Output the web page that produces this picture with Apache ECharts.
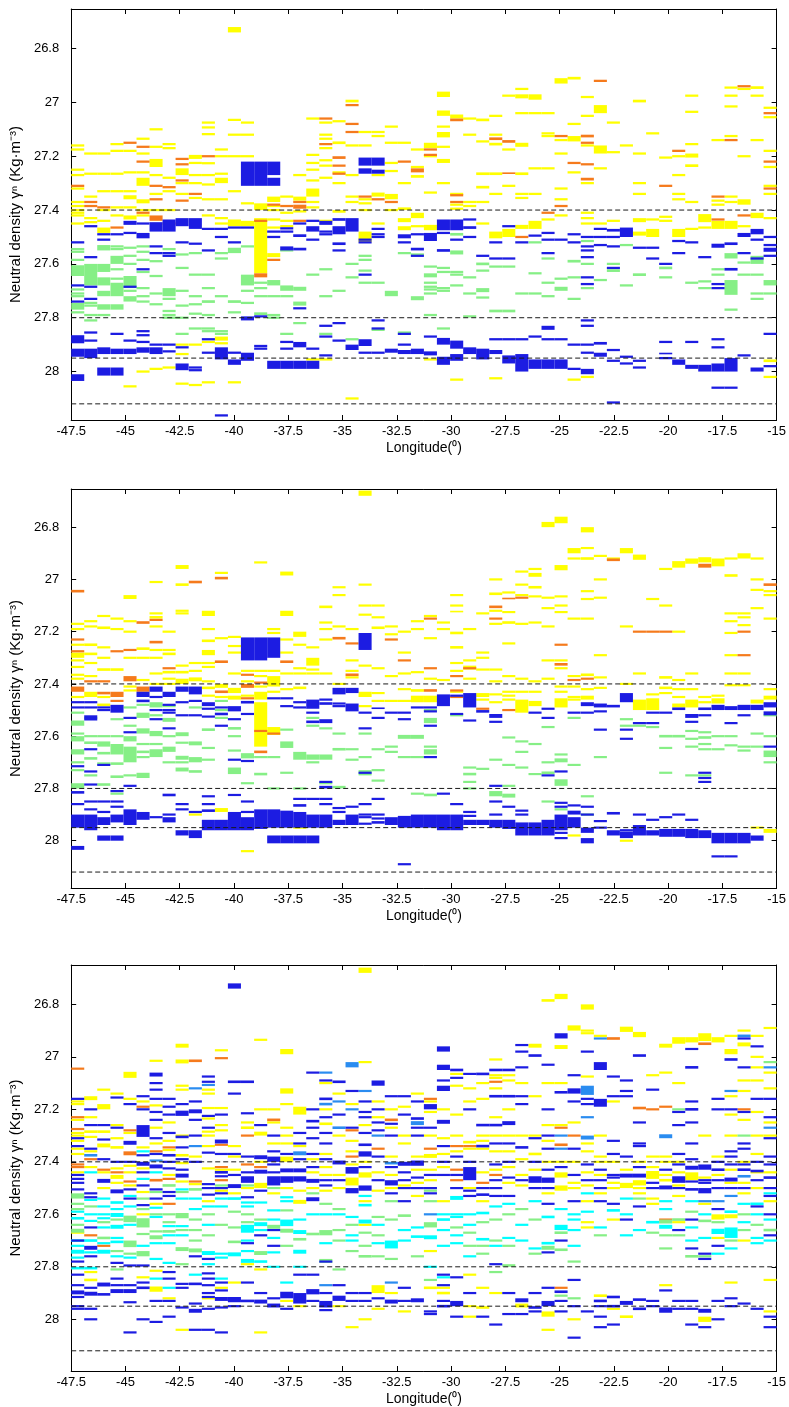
<!DOCTYPE html>
<html>
<head>
<meta charset="utf-8">
<script src="https://cdn.jsdelivr.net/npm/echarts@6/dist/echarts.min.js"></script>
<style>
html, body { margin: 0; padding: 0; background: #fff; }
#chart { width: 789px; height: 1407px; }
</style>
</head>
<body>
<div id="chart"></div>
<script>
// Station longitudes (degrees), one column of dashes per station
const STATIONS = [
  -47.20, -46.60, -46.00, -45.39, -44.79, -44.19, -43.59, -42.99, -42.39, -41.78,
  -41.18, -40.58, -39.98, -39.38, -38.77, -38.17, -37.57, -36.97, -36.37, -35.77,
  -35.16, -34.56, -33.96, -33.36, -32.75, -32.15, -31.55, -30.95, -30.35, -29.74,
  -29.14, -28.54, -27.94, -27.34, -26.74, -26.13, -25.53, -24.93, -24.33, -23.72,
  -23.12, -22.52, -21.92, -21.32, -20.71, -20.11, -19.51, -18.91, -18.31, -17.70,
  -17.10, -16.50, -15.90, -15.30
];
const X_RANGE = [-47.5, -15];
const X_STEP = 2.5;
const Y_TICKS = [26.8, 27, 27.2, 27.4, 27.6, 27.8, 28];
const Y_RANGES = [[26.653, 28.18], [26.654, 28.181], [26.65, 28.197]];
// Neutral-density reference levels drawn as dashed lines
const REF_LEVELS = [27.4, 27.8, 27.95, 28.12];

// Each station row: [yellow, orange, blue, green, cyan, light blue] classes.
// A number is a single level; a pair is a [top, bottom] layer.
const PANEL1 = [
  [[27.16,27.175,27.25,27.27,27.32,27.37,27.385,27.40,27.41,27.42,27.45],[27.31],[27.52,27.68,27.74,[27.865,27.895],[27.915,27.945],[28.01,28.035]],[27.545,27.555,27.585,[27.605,27.645],27.695,27.71,27.72,[27.745,27.77],27.78]],
  [[27.19,27.265,27.35,27.43,27.445],[27.37,27.385],[27.46,27.575,27.685,27.73,27.855,27.885,[27.915,27.95]],[[27.6,27.68],27.745,27.755,27.79,27.81]],
  [[27.19,27.265,27.33,27.40,27.44,[27.465,27.485]],[27.39],[27.49,27.51,[27.91,27.935],[27.985,28.015]],[[27.53,27.55],[27.6,27.63],[27.65,27.68],[27.7,27.72],[27.75,27.77],27.79]],
  [[27.155,27.18,27.265,27.33,27.39,27.42],[27.465],[27.49,27.86,[27.915,27.935],[27.985,28.015]],[27.535,27.545,[27.57,27.6],27.62,27.655,[27.67,27.72],[27.75,27.77]]],
  [[27.18,27.26,27.33,[27.345,27.36],27.39,[27.42,27.435],28.055],[27.15],[[27.44,27.455],27.485,27.685,27.885,[27.915,27.935]],[27.54,27.57,27.6,[27.645,27.69],27.7,[27.72,27.74]]],
  [[27.135,27.19,27.26,[27.28,27.31],[27.36,27.375],27.40,27.42,28.0],[27.165,27.22,27.41],[27.45,[27.485,27.505],27.62,27.85,27.865,27.89,[27.91,27.93]],[27.535,27.555,27.585,27.63,27.69,27.72,27.74]],
  [[27.1,27.165,[27.21,27.24],27.27,27.34,27.40,27.99],[27.31,27.36,[27.42,27.44]],[[27.445,27.48],27.535,27.56,27.9,[27.91,27.935]],[27.59,27.645,27.71,27.75]],
  [[27.155,27.17,27.28,27.33,27.40,27.985],[27.315,27.45],[[27.435,27.48],27.56,27.57,27.9,27.925],[27.545,[27.69,27.72],27.73,27.775,27.79,27.8]],
  [[[27.245,27.27],27.3,27.34,27.9,27.935,28.045],[27.21,27.23,27.29,27.365],[[27.43,27.46],27.52,27.91,[27.97,27.995]],[27.565,27.615,27.70,27.755,27.8,27.86]],
  [[[27.195,27.21],27.225,27.27,27.3,27.355,27.9,28.05],[27.34],[[27.43,27.47],27.525,27.985,27.995],[27.56,27.64,27.72,27.75,27.785,27.84]],
  [[27.075,27.093,27.118,27.226,27.27,27.305,27.36,27.42,27.89,28.04],[27.2],[27.47,27.55,27.88,27.93],[27.64,27.69,[27.735,27.745],27.79,27.84,27.85]],
  [[27.175,27.2,27.265,[27.28,27.3],27.36,27.43,27.45,[27.87,27.885],27.895],[],[27.47,27.5,[27.91,27.955],28.163],[27.56,27.58,27.72,27.85,27.86]],
  [[[26.72,26.74],27.065,27.12,27.2,27.33,[27.435,27.46],28.04],[],[27.465,27.52,27.93,[27.955,27.975]],[[27.54,27.56],[27.735,27.745],27.78]],
  [[27.075,27.12,27.2,27.375,[27.44,27.46]],[],[[27.22,27.31],27.465,[27.795,27.81],[27.93,27.96]],[27.535,[27.64,27.68],27.7,27.745]],
  [[[27.375,27.4],[27.43,27.635]],[27.44,[27.635,27.65]],[[27.22,27.31],27.795,27.905,27.915],[27.67,27.69,27.72,[27.78,27.79]]],
  [[[27.35,27.37],27.385,27.4,27.435,27.465,[27.56,27.575]],[27.38,27.585],[[27.22,27.27],[27.28,27.31],27.48,27.5,[27.96,27.99]],[[27.66,27.68],27.72,27.79,27.8]],
  [[27.35,27.41,27.44,27.46],[27.385],[27.468,27.48,[27.535,27.55],27.89,27.915,[27.96,27.99]],[27.55,[27.68,27.7],27.72,27.86]],
  [[27.27,[27.35,27.365],27.405],[27.37,[27.38,27.395],27.44],[27.45,[27.49,27.5],[27.54,27.55],27.765,[27.89,27.91],[27.96,27.99]],[[27.685,27.7],[27.74,27.755],27.82]],
  [[27.06,27.195,27.225,27.25,27.29,[27.32,27.35],27.37,27.39,27.955],[],[27.44,[27.46,27.48],27.51,27.915,[27.96,27.99]],[27.64]],
  [[27.075,27.12,27.135,27.17,27.215,27.235,27.28,27.44,27.955],[27.06,27.155],[[27.44,27.455],27.48,27.49,27.83,27.87,27.94],[27.62,27.72,27.86]],
  [[27.07,[27.145,27.155],27.26,27.3,[27.4,27.41]],[[27.2,27.21],27.235,27.265],[[27.43,27.44],[27.46,27.49],[27.52,27.53],27.55,27.82,27.885],[27.7]],
  [[[26.99,27.0],27.16,27.27,27.35,27.37,28.1],[27.01,27.08,27.11],[[27.43,27.48],[27.9,27.92]],[27.6,27.65,27.88]],
  [[27.11,27.16,27.36,27.375,27.4,[27.48,27.52]],[27.35],[[27.205,27.235],[27.245,27.265],27.51,27.52,27.64,[27.88,27.905],27.93],[27.57,27.585,27.625,27.67]],
  [[27.11,27.125,27.27,[27.335,27.35],27.45],[27.36],[[27.205,27.235],[27.25,27.265],27.47,27.49,27.5,27.81,27.84,27.93],[27.67,27.845]],
  [[27.09,27.15,27.225,27.255,[27.34,27.36],27.4],[27.37],[[27.915,27.93]],[[27.7,27.72]]],
  [[27.15,27.3,[27.39,27.4],[27.43,27.445],[27.46,27.475]],[27.22],[[27.49,27.505],27.52,27.86,27.9,[27.92,27.935]],[27.56,27.855]],
  [[27.175,27.24,[27.27,27.28],[27.41,27.43],27.46],[[27.245,27.26]],[27.49,[27.54,27.55],27.57,[27.915,27.935]],[27.565,[27.72,27.735]]],
  [[[27.15,27.17],27.2,27.335,[27.455,27.475],27.955],[27.175,27.195],[[27.485,27.515],27.87,[27.925,27.94]],[27.61,[27.635,27.65],27.67,27.685,27.695,27.71,27.79]],
  [[[26.96,26.98],[27.03,27.05],27.09,[27.11,27.13],27.165,[27.21,27.225],27.3],[],[[27.435,27.475],27.485,[27.545,27.555],[27.875,27.9],[27.945,27.975]],[27.615,27.63,27.69,27.7,27.84]],
  [[[27.045,27.06],27.34,27.38,27.395,28.03],[[27.06,27.07],27.345,27.37],[[27.435,27.475],27.51,[27.885,27.915],[27.935,27.96]],[[27.485,27.495],[27.55,27.565],27.63,27.64,27.68]],
  [[27.06,27.12,27.37,27.385],[],[27.435,[27.46,27.47],27.5,[27.91,27.935]],[27.65,27.71,27.795]],
  [[[27.06,27.07],27.145,[27.26,27.27],[27.31,27.32],27.37,27.45],[],[27.57,[27.915,27.955]],[[27.595,27.605],27.625,[27.69,27.705],27.725]],
  [[27.05,27.12,[27.15,27.16],[27.26,27.27],27.34,[27.48,27.505],28.025],[[27.13,27.14]],[27.52,27.58,27.88,[27.92,27.935]],[27.61,[27.77,27.78]]],
  [[26.975,27.175,27.31,[27.47,27.5]],[[27.14,27.15],[27.26,27.265]],[27.46,27.58,27.88,[27.94,27.97]],[27.61,[27.77,27.78]]],
  [[26.95,[26.97,26.985],27.04,[27.15,27.165],[27.26,27.27],27.34,27.355,[27.455,27.47]],[27.5],[27.52,27.88,[27.935,28.0]],[27.71]],
  [[[26.97,26.99],27.04,27.245,27.34,[27.44,27.47]],[],[27.495,27.87,[27.955,27.99]],[27.52,27.635,27.71]],
  [[27.04,27.115,27.125,27.245,27.435],[27.41],[27.485,27.51,27.56,[27.83,27.845],27.88,[27.955,27.99]],[27.58,27.67,27.72]],
  [[[26.91,26.93],27.14,27.19,27.32,27.36,27.42],[27.125,27.385],[27.51,27.88,[27.955,27.99]],[27.655,[27.685,27.7]]],
  [[[26.905,26.915],27.08,[27.125,27.145],27.26,28.03],[27.225],[27.49,27.52,27.9,27.99],[[27.585,27.595],27.65,27.73]],
  [[26.98,27.05,27.16,27.3,27.41,27.43,27.45,28.02],[[27.12,27.13],27.15,27.23,[27.28,27.29]],[27.5,27.535,27.55,27.575,27.65,27.675,27.81,27.83,27.9,27.93,[27.99,28.01]],[27.515,27.6,27.69]],
  [[[27.01,27.04],[27.16,27.19],27.245,27.45],[26.92],[27.47,27.5,27.53,[27.89,27.9],[27.93,27.945]],[27.66]],
  [[27.075,27.185,27.44],[],[[27.47,27.48],27.5,27.535,27.615,27.92,27.96,28.115],[27.6,[27.62,27.63]]],
  [[27.16],[],[[27.465,27.5],27.945,27.97],[27.53,27.68]],
  [[[26.99,27.0],27.19,27.3,27.34,[27.43,27.445],[27.48,27.495]],[],[27.54,27.96,27.985],[[27.635,27.645]]],
  [[27.115,27.435,[27.47,27.5]],[],[27.54,27.58],[]],
  [[27.205,27.425,27.44],[27.31],[27.6,27.89,[27.93,27.935],27.95],[[27.61,27.62],27.65]],
  [[27.2,27.27,27.34,27.36,[27.47,27.5]],[27.18],[27.515,27.56,[27.955,27.975]],[]],
  [[26.975,27.035,27.155,[27.19,27.205],[27.23,27.24],27.37,27.47],[],[27.52,27.89,[27.975,27.99]],[27.67]],
  [[[27.415,27.445],27.465,27.985],[],[27.575,[27.975,28.0]],[27.665,27.69]],
  [[27.14,27.365,27.38,[27.44,27.47]],[27.35,27.435],[[27.525,27.54],27.675,27.69,27.88,27.91,[27.97,28.0],28.06],[27.62,27.64]],
  [[26.945,26.975,27.015,27.125,27.35,27.37,[27.44,27.47]],[27.14],[[27.52,27.53],[27.615,27.625],[27.95,28.0],28.06],[[27.56,27.58],[27.66,27.715],27.77]],
  [[26.95,27.2,[27.36,27.38],27.46],[26.94,27.42],[[27.485,27.5],27.56,27.94],[27.595,27.64]],
  [[[26.94,26.95],26.975,27.14,[27.41,27.43]],[],[[27.47,27.49],27.51,27.58,[27.985,28.0]],[[27.57,27.6],27.64,27.71,27.73]],
  [[27.02,27.055,27.18,27.24,27.31,27.34,27.43,[27.955,27.965],28.02],[27.04,27.22,27.32],[27.5,27.53,[27.54,27.555],27.57,27.86,27.98],[[27.66,27.68],27.71]]
];

const PANEL2 = [
  [[27.17,27.19,27.25,[27.28,27.3],27.31,27.335,27.365,27.38,27.45],[[27.04,27.05],27.23,27.275,[27.41,27.43]],[27.47,27.49,27.715,[27.81,27.82],27.86,[27.9,27.95],[28.02,28.035]],[27.51,[27.54,27.56],27.59,[27.6,27.62],[27.65,27.67],27.7,27.73,[27.78,27.8]]],
  [[27.16,27.18,[27.245,27.255],[27.28,27.29],27.32,27.37,[27.43,27.45]],[27.39],[27.47,27.49,[27.52,27.54],27.65,27.735,27.785,27.85,27.88,[27.9,27.96]],[27.53,27.6,[27.62,27.63],[27.68,27.69],27.75]],
  [[27.14,[27.18,27.19],27.26,27.3,[27.34,27.35],27.45,[27.475,27.485]],[27.39,[27.43,27.44]],[27.49,27.5,27.71,27.85,27.89,[27.91,27.94],[27.98,28.0]],[27.6,[27.62,27.64],[27.66,27.67],[27.7,27.71],[27.78,27.79]]],
  [[27.15,27.19,[27.34,27.35]],[27.275,[27.43,27.45],27.465],[[27.48,27.51],27.81,27.85,27.87,[27.9,27.93],[27.98,28.0]],[27.535,27.6,[27.63,27.67],[27.7,27.71],[27.75,27.76],27.82]],
  [[[27.06,27.075],27.16,27.2,27.3,27.41,27.425],[27.27,[27.37,27.39]],[27.53,27.585,27.79,[27.88,27.94]],[27.49,27.56,[27.6,27.62],[27.64,27.7],27.75]],
  [[[27.26,27.27],27.3,27.385],[[27.16,27.17],[27.41,27.43]],[[27.43,27.45],[27.46,27.47],[27.89,27.92]],[27.48,[27.51,27.53],[27.57,27.59],27.63,[27.655,27.665],27.68,[27.74,27.76]]],
  [[27.01,27.13,[27.14,27.15],27.18,27.27,27.3,27.36,27.4],[27.155,[27.235,27.245]],[[27.41,27.43],27.45,27.5,27.535,27.91],[[27.47,27.49],27.52,[27.58,27.6],27.63,[27.65,27.68]]],
  [[27.2,27.27,[27.28,27.29],[27.35,27.36],27.38,27.4],[27.34],[[27.43,27.45],27.48,27.5,27.51,27.57,[27.82,27.83],27.9,[27.91,27.93]],[27.485,[27.53,27.545],27.6,[27.64,27.66],27.7]],
  [[[26.945,26.96],[27.015,27.025],27.12,27.13,27.33,[27.35,27.36],[27.38,27.4]],[],[[27.41,27.43],27.47,27.52,27.86,27.88,[27.96,27.98]],[[27.585,27.6],27.625,[27.675,27.69],27.7,[27.72,27.735]]],
  [[27.32,27.35,[27.375,27.39],27.9],[[27.005,27.015]],[[27.41,27.44],27.465,27.52,27.89,[27.96,27.99]],[27.49,[27.62,27.635],[27.68,27.7],[27.73,27.74]]],
  [[[27.12,27.14],27.19,[27.23,27.24],[27.27,27.29],27.32,27.335,27.39,[27.41,27.42],27.445],[],[[27.47,27.485],27.495,27.525,27.83,27.86,[27.88,27.89],[27.92,27.96]],[[27.57,27.58],27.645,27.69]],
  [[26.975,27.225,[27.4,27.415],27.45,[27.875,27.89]],[[26.99,27.0],[27.31,27.32],[27.425,27.435]],[27.49,[27.51,27.52],27.56,[27.92,27.96]],[27.465,27.5,27.53]],
  [[27.22,27.255,27.28,27.36,[27.415,27.435],[27.445,27.46]],[],[[27.485,27.505],27.535,27.69,27.825,[27.89,27.96]],[[27.565,27.575],27.6,27.655,[27.72,27.745]]],
  [[27.35,27.39,27.445,28.04],[27.365,[27.4,27.415],27.455],[[27.222,27.31],[27.465,27.475],27.515,27.695,27.85,27.89,[27.91,27.96]],[[27.665,27.685],27.78]],
  [[26.935,27.35,27.37,27.41,[27.43,27.46],[27.47,27.64]],[27.395,27.58,[27.655,27.665]],[[27.222,27.31],[27.88,27.955]],[27.68,[27.74,27.75]]],
  [[27.19,27.205,27.35,[27.37,27.41],27.43,[27.565,27.595]],[27.59],[[27.222,27.3],27.455,[27.88,27.95],[27.98,28.01]],[27.68,27.8]],
  [[[26.97,26.985],[27.12,27.14],27.23,27.28,27.36,27.42],[[27.31,27.32]],[27.455,27.485,[27.885,27.95],[27.98,28.01]],[27.575,[27.62,27.645],27.74]],
  [[[27.2,27.22],27.25,27.34,27.36,[27.41,27.42],27.95],[],[27.47,27.49,27.84,[27.86,27.87],[27.89,27.95],[27.98,28.01]],[[27.66,27.69],27.8]],
  [[27.26,[27.3,27.33],27.345,27.36],[],[[27.46,27.495],27.51,[27.54,27.55],27.84,[27.9,27.95],[27.98,28.01]],[27.53,27.56,[27.67,27.69],27.7]],
  [[[27.1,27.11],27.165,27.19,27.23,27.36],[],[27.46,[27.47,27.48],[27.535,27.55],27.775,[27.79,27.8],27.84,27.86,[27.9,27.95]],[27.57,[27.67,27.69],27.78]],
  [[27.03,27.06,27.18,27.4],[[27.22,27.23]],[[27.415,27.44],27.475,27.485,27.875,27.89,[27.92,27.94]],[27.59,[27.645,27.655],[27.79,27.8]]],
  [[27.19,27.31,27.35,27.375],[27.245,[27.36,27.37]],[[27.415,27.435],[27.475,27.505],27.87,[27.9,27.94]],[27.65,27.69]],
  [[[26.66,26.68],27.02,27.1,27.135,27.33,[27.43,27.45],27.485],[],[[27.205,27.27],27.51,27.57,27.74,27.86,27.9,27.91,27.935],[27.59,27.68,[27.73,27.75]]],
  [[27.1,27.145,[27.18,27.19],27.34,27.435,27.465],[],[[27.49,27.495],27.53,27.84,27.9,27.915,[27.925,27.935]],[27.65,27.73,27.77]],
  [[27.18,27.21,27.37,27.465],[27.23],[27.51,[27.91,27.94]],[27.64,27.66]],
  [[27.2,27.28,27.36,27.42,27.465],[27.31],[27.51,27.535,[27.905,27.95],28.09],[[27.595,27.61],27.68]],
  [[27.16,27.19,27.355,[27.42,27.43],[27.445,27.47]],[],[27.49,[27.9,27.95]],[[27.595,27.61],27.68,27.82]],
  [[27.14,27.225,27.38,[27.445,27.47]],[27.15,27.34,[27.42,27.43]],[27.49,27.505,27.56,27.68,[27.9,27.95]],[27.5,[27.53,27.55],27.64,[27.65,27.67],[27.82,27.83]]],
  [[27.165,27.19,27.385],[],[[27.44,27.485],27.82,[27.9,27.96]],[27.46]],
  [[27.06,27.1,[27.12,27.125],[27.2,27.21],[27.255,27.265],27.32,27.35,27.43],[27.37,27.425,27.45],[27.445,27.515,27.86,[27.9,27.96]],[27.52]],
  [[27.19,27.31,[27.33,27.345],27.38],[27.34],[[27.435,27.49],27.54,27.89,27.905,[27.92,27.94]],[27.72,[27.74,27.75],27.775,27.8]],
  [[27.13,27.28,27.3,27.345,[27.435,27.45],27.46],[27.495],[[27.5,27.51],[27.92,27.94]],[27.725]],
  [[27.0,[27.05,27.06],27.12,27.17,27.345,27.39,27.44,27.47],[[27.1,27.11],27.15],[[27.515,27.53],27.545,27.79,27.85,27.9,[27.92,27.95]],[27.69,[27.81,27.83]]],
  [[27.05,27.125,[27.16,27.17],27.245,27.37,27.43,27.445,27.46],[[27.07,27.075],27.5],[27.87,[27.92,27.955]],[27.605,27.71,27.79,[27.82,27.835]]],
  [[26.97,27.02,27.06,27.17,27.38,27.43,[27.46,27.51]],[27.07],[27.885,27.9,[27.93,27.98]],[27.62,27.66,27.72]],
  [[26.96,[26.975,26.99],[27.025,27.035],27.065,27.165,27.39,27.43,[27.465,27.485]],[],[27.51,[27.93,27.98]],[27.63,27.745]],
  [[[26.78,26.8],27.07,27.11,27.18,27.31,27.38],[],[27.495,27.53,27.75,[27.92,27.98]],[27.565,27.7,[27.735,27.745],27.85]],
  [[[26.76,26.785],[26.945,26.965],27.065,27.1,27.125,27.31,27.34,27.41,27.43,[27.455,27.49]],[27.25,[27.32,27.33]],[27.735,27.855,27.87,[27.9,27.96],27.97,27.99],[27.67,[27.685,27.7],[27.765,27.79],27.88]],
  [[[26.88,26.9],26.92,27.15,27.37,27.41,27.45,27.46,27.98],[27.385],[27.51,27.865,[27.885,27.9],[27.91,27.95]],[27.53,27.71]],
  [[[26.8,26.82],26.88,[26.915,26.925],27.045,27.075,27.15,[27.36,27.37],27.42,[27.445,27.46],27.955],[27.38],[[27.47,27.485],27.51,27.87,27.9,[27.95,27.97],[27.99,28.01]],[27.83,27.9]],
  [[26.91,27.0,27.07,27.29,27.375,27.415],[],[[27.475,27.49],27.505,27.575,27.925,27.95],[27.68]],
  [[26.92],[[26.92,26.93]],[[27.48,27.49],[27.89,27.9],[27.96,27.98]],[]],
  [[[26.88,26.9],27.18,27.4,28.0],[],[[27.435,27.47],27.575,27.61,27.96,[27.965,27.99]],[27.535,27.56]],
  [[[26.905,26.925],27.36,[27.46,27.5]],[27.2],[27.55,27.9,[27.94,27.98]],[27.56]],
  [[27.075,27.44,[27.455,27.5]],[27.2],[27.51,27.55,27.92,[27.96,27.98]],[27.565]],
  [[26.96,27.1,[27.37,27.38],[27.41,27.42],27.435],[27.2],[27.51,27.91,[27.955,27.985]],[[27.595,27.605],27.645,27.74]],
  [[[26.93,26.955],27.2,27.385,27.42,27.45,[27.475,27.49]],[],[[27.49,27.5],27.9,[27.955,27.985]],[[27.595,27.605]]],
  [[[26.92,26.94],27.36,27.42,[27.46,27.49]],[],[[27.515,27.53],27.545,27.92,[27.955,27.99]],[27.58,27.61,27.64,27.75]],
  [[[26.915,26.935],27.45,27.47],[[26.94,26.955]],[[27.49,27.5],27.52,27.74,27.76,27.775,[27.96,27.99]],[27.585,[27.6,27.61],27.63,27.65,27.75]],
  [[[26.92,26.95],27.445,[27.455,27.475]],[],[[27.48,27.5],[27.97,28.01],28.06],[27.6,27.65]],
  [[26.92,[26.98,26.99],27.13,27.16,27.205,27.29,27.36,27.405],[],[[27.485,27.5],27.55,[27.97,28.01],28.06],[27.6,27.635]],
  [[[26.9,26.92],27.13,27.145,27.175,27.36,27.405],[27.2,27.29],[[27.48,27.5],27.52,[27.97,28.01]],[27.64,27.655]],
  [[26.92,27.0,27.04,27.11,[27.46,27.475],27.95],[],[[27.48,27.5],[27.98,28.0]],[27.59,27.64]],
  [[27.045,27.06,27.15,27.42,[27.445,27.46],[27.955,27.97]],[[27.015,27.025]],[[27.47,27.49],[27.505,27.52],27.64],[27.52,27.6,[27.655,27.68],27.7]]
];

const PANEL3 = [
  [[27.17,27.18,27.24,27.29,27.3,27.32,27.35,27.37,27.44,27.67],[27.045,27.23,27.275,27.41,27.42],[27.16,27.31,27.34,27.45,27.465,27.48,27.505,27.7,27.78,27.83,27.87,[27.89,27.905],27.915,27.95,27.96],[[27.52,27.54],27.56,27.58,27.64,[27.655,27.67]],[27.59,[27.61,27.62],[27.695,27.705],27.72,[27.735,27.75],27.765,[27.8,27.81]],[]],
  [[[27.15,27.165],27.23,[27.28,27.29],27.305,27.36,27.42,27.82,[27.845,27.855]],[27.39,27.68],[27.2,27.26,27.35,27.52,27.535,27.65,[27.72,27.735],27.76,27.88,[27.895,27.91],27.96,28.0],[27.57],[27.44,27.545,27.6,27.625,[27.695,27.705],27.745,[27.8,27.81]],[[27.37,27.38]]],
  [[27.125,[27.18,27.2],[27.28,27.29],[27.33,27.345],27.44,27.5],[27.43,27.72],[27.26,27.315,27.39,[27.465,27.48],[27.86,27.875],[27.9,27.91]],[27.63,[27.685,27.695]],[27.54,27.57,27.6,27.615,27.65,27.71,[27.735,27.75]],[]],
  [[27.14,27.26,27.31,[27.34,27.35],27.425,[27.45,27.465],27.48],[27.44],[27.155,27.27,27.4,[27.505,27.52],27.785,27.845,27.87,[27.885,27.9]],[27.62,27.74,27.81],[[27.55,27.56],27.58,[27.595,27.61],[27.64,27.655],27.69,[27.7,27.71],27.76],[]],
  [[[27.057,27.08],27.16,27.29,27.415,27.44,27.49],[27.28,[27.36,27.375],27.475],[27.18,[27.32,27.335],27.4,27.505,27.54,27.795,27.87,[27.885,27.9],27.935,28.05],[[27.605,27.63],[27.7,27.725],27.75],[27.53,27.57,27.64,27.765],[]],
  [[27.17,27.345,27.425,27.515,27.6,27.84],[27.19],[27.15,27.2,[27.26,27.305],27.375,[27.4,27.415],27.44,27.49,27.565,27.795,27.86,[27.875,27.885],28.0],[27.54,27.58,[27.615,27.65],27.675,[27.74,27.76]],[27.36,27.465,27.72],[]],
  [[27.015,27.185,27.27,27.33,27.56,27.815,[27.875,27.895]],[27.36,[27.465,27.475]],[[27.06,27.075],27.1,27.125,27.16,27.21,27.24,27.31,27.37,[27.41,27.425],27.505,27.54,27.93,28.01],[27.515,27.6,27.665,[27.68,27.695]],[27.44,27.575,27.61,27.71,27.77,27.845],[27.395]],
  [[27.25,27.32,27.355,27.45,27.92],[27.345,27.465,27.56],[27.16,27.19,27.22,27.29,[27.37,27.38],27.4,27.425,27.515,27.53,27.82,27.845,27.93,27.99],[[27.485,27.495],27.6,27.63,[27.66,27.67]],[27.645,27.68,27.71,27.785,27.88],[]],
  [[[26.95,26.965],[27.01,27.025],27.11,27.125,27.3,[27.37,27.38],27.405,27.475,28.04],[],[27.18,[27.205,27.225],[27.3,27.31],27.345,27.39,27.43,[27.445,27.46],27.865,27.88,27.955],[27.515,[27.595,27.615],27.66,[27.725,27.74],27.79],[27.505,27.54,27.645,27.68],[]],
  [[27.38,27.485],[[27.01,27.02],27.475],[27.17,[27.2,27.215],27.24,27.3,27.4,27.76,[27.86,27.87],27.94,[27.96,27.975],28.04],[[27.5,27.51],27.62,27.66,27.7,[27.73,27.745]],[27.54,27.58,27.83],[27.12,27.34]],
  [[27.125,27.14,27.195,27.235,27.285,27.3,27.34,27.425,27.55,27.92],[],[27.075,27.095,27.225,27.27,27.365,27.485,27.5,27.525,27.77,27.825,27.845,27.87,27.9,27.915,27.96,28.04],[27.6,27.68],[27.57,27.64,[27.74,27.755],27.79],[27.107]],
  [[26.975,27.195,27.26,27.28,27.43,27.51,27.88],[27.005,27.335,27.42,27.47],[27.22,[27.315,27.33],27.37,[27.435,27.445],27.455,27.5,27.52,27.86,27.89,[27.915,27.93],27.955,28.05],[27.49,27.64],[27.54,27.57,27.75,27.765,27.845],[]],
  [[27.34,27.38,27.43,27.52,27.86],[],[[26.72,26.74],[27.09,27.1],27.14,27.37,27.45,[27.485,27.5],[27.915,27.935],27.95],[27.59,27.65,[27.7,27.71]],[[27.535,27.545],[27.745,27.76]],[]],
  [[27.25,[27.265,27.275],27.5,27.79],[27.3,27.41],[[27.09,27.1],27.215,27.38,27.44,[27.455,27.48],27.535,27.71,27.86,[27.925,27.935]],[27.49,27.6,27.63],[27.555,27.57,[27.64,27.67],27.7,27.74,[27.77,27.785]],[]],
  [[26.935,27.2,[27.285,27.3],27.4,[27.48,27.5],27.81,28.05],[27.42],[27.26,[27.375,27.39],[27.43,27.445],27.51,27.68,27.9,[27.925,27.94]],[27.62,[27.74,27.755]],[27.555,[27.63,27.645],27.66,[27.775,27.785]],[]],
  [[27.2,27.25,27.33,27.52],[[27.235,27.245]],[27.3,27.36,[27.38,27.4],27.41,27.44,[27.455,27.49],27.66,27.72,27.92,[27.94,27.955]],[27.5,[27.64,27.655]],[27.585,27.62,27.69,27.745,27.8],[]],
  [[[26.97,26.99],[27.12,27.14],27.18,27.27,27.3,27.33,[27.38,27.4],27.5,27.93],[],[27.37,[27.425,27.44],[27.455,27.48],[27.895,27.92],27.96],[27.585,[27.655,27.67],27.72],[27.535,27.55,[27.62,27.645],27.86],[]],
  [[[27.19,27.22],27.34,27.51,[27.545,27.56],27.95],[],[27.29,27.33,27.39,[27.425,27.44],[27.455,27.475],27.83,[27.9,27.94]],[[27.69,27.7]],[27.62,[27.66,27.675],[27.735,27.75],27.8],[[27.36,27.375]]],
  [[27.39,27.44,27.5],[],[27.06,27.2,[27.24,27.25],27.27,27.31,27.37,27.42,[27.465,27.48],[27.535,27.55],27.83,[27.885,27.905],27.93],[27.52,[27.67,27.68]],[27.6],[]],
  [[27.1,27.2,[27.25,27.26],27.37,27.42,27.45,27.51],[],[27.09,[27.155,27.165],27.23,27.29,27.33,27.39,27.47,27.49,27.78,27.9,[27.93,27.955],27.965],[27.56,[27.66,27.68],[27.77,27.785]],[27.6,27.71],[27.06,[27.175,27.185],27.87]],
  [[27.14,27.3,27.45,27.5,27.95],[],[[27.09,27.1],27.22,[27.395,27.41],27.47,27.87,[27.91,27.93]],[27.58,27.66,27.7,27.81],[27.6],[27.17,[27.265,27.275]]],
  [[27.18,27.32,27.36,27.41,[27.46,27.49],28.03],[27.28,27.38],[27.13,27.27,[27.42,27.445],[27.5,27.52],27.9,27.93],[27.64,27.74],[27.61,27.68,27.7],[[27.02,27.04],27.2]],
  [[[26.66,26.68],27.02,27.26,27.4,[27.44,27.46],27.55,27.64,28.0],[],[27.17,27.21,27.23,27.29,[27.33,27.34],[27.36,27.38],27.42,[27.49,27.51],27.9,27.93],[27.67,27.72,[27.755,27.765]],[27.53,[27.56,27.57],[27.62,27.635]],[27.13]],
  [[27.17,27.23,27.44,27.51,[27.87,27.9],27.96],[27.35],[[27.09,27.11],27.2,27.25,27.28,27.38,27.47,27.92],[27.61,27.68,27.76],[27.64,27.71],[27.3]],
  [[27.2,27.27,27.38,27.45,27.5,27.9],[[27.235,27.245]],[27.15,27.255,27.3,27.42,[27.47,27.49],27.52,[27.925,27.94]],[27.55,27.62,27.77],[[27.7,27.73]],[[27.4,27.41],27.86]],
  [[27.19,27.3,27.33,27.49,27.97],[],[27.15,27.22,[27.4,27.415],27.44,27.47,27.5,27.55,27.88,27.93],[[27.6,27.61]],[27.66,27.7],[]],
  [[27.14,27.38,27.43,27.48,27.53],[],[27.17,[27.23,27.24],27.27,27.3,[27.395,27.415],27.46,27.5,[27.92,27.935]],[27.76],[27.65,[27.68,27.69]],[[27.245,27.26]]],
  [[27.17,27.21,27.3,[27.37,27.385],27.43,27.47,27.74,[27.875,27.885]],[27.16,27.35],[[27.18,27.2],27.27,27.45,27.5,27.52,27.97,27.98],[27.51,27.55,[27.63,27.65],27.85],[[27.68,27.695],27.8],[27.6]],
  [[27.2,27.31,27.37,27.42,27.55,27.88,[27.895,27.905]],[],[[26.96,26.98],[27.03,27.05],27.09,[27.11,27.13],[27.24,27.255],27.34,27.4,27.45,27.83,27.87,27.93,[27.945,27.955]],[],[27.6,[27.615,27.625],27.66,27.72,27.84],[]],
  [[27.065,27.11,27.22,27.3,27.36],[27.34,27.43,27.47],[[27.045,27.055],27.08,27.38,27.45,27.5,27.84,[27.93,27.95],27.99],[27.65],[[27.53,27.545],27.6,27.61,27.68,27.71],[]],
  [[27.12,27.17,[27.32,27.33],27.35,27.5,27.83,27.95,27.99],[27.34],[27.065,27.2,27.4,[27.42,27.47],27.51,27.53,27.9],[27.67,27.72],[27.6,27.64,27.76],[]],
  [[27.1,27.16,27.3,27.32,27.35,27.44,27.55,27.88,[27.95,27.96]],[27.48],[[27.06,27.07],[27.255,27.265],[27.335,27.345],27.5,[27.52,27.53],27.99],[27.63,27.72,27.75],[[27.59,27.6],[27.69,27.7]],[]],
  [[27.01,27.07,27.08,27.12,27.23,27.3,27.36,27.43,27.9],[27.095,27.45],[[27.045,27.055],[27.145,27.155],[27.255,27.265],27.33,27.41,27.47,27.5,27.53,27.79,28.02],[27.62,27.7,27.82],[27.57,27.72],[]],
  [[27.07,27.09,27.2,27.3,27.36,27.42,27.48],[],[[27.045,27.055],[27.145,27.155],[27.245,27.26],27.33,27.4,27.46,27.53,27.9,27.98],[27.6,27.72,[27.79,27.8]],[27.56,27.69],[]],
  [[27.1,27.3,27.39,27.45,27.49,[27.94,27.955]],[],[26.955,26.98,27.04,27.15,27.18,[27.34,27.35],27.47,[27.92,27.935],27.98],[27.58],[27.64,27.7],[]],
  [[[26.95,26.965],27.15,27.3,[27.365,27.375],27.43,27.47],[],[[26.99,27.0],27.31,27.4,[27.455,27.48],27.5,27.9,[27.95,27.96],27.97],[27.62,27.75],[27.55,27.73],[]],
  [[[26.78,26.79],27.1,27.26,27.32,27.4,27.52,[27.97,27.99],28.04],[],[27.03,27.2,27.3,27.35,27.43,[27.46,27.48],27.5,27.56,27.745,27.88,[27.93,27.95]],[[27.72,27.735]],[[27.605,27.615],[27.705,27.715]],[]],
  [[[26.76,26.78],[26.955,26.97],27.1,27.26,27.4,[27.44,27.46],[27.49,27.51]],[27.27,[27.33,27.34],27.88],[[26.91,26.93],[27.13,27.14],27.42,27.7,[27.89,27.9],27.93,27.97],[[27.665,27.675],[27.73,27.74],27.91],[27.58,[27.64,27.66]],[27.3,27.35]],
  [[[26.88,26.9],27.25,27.4,27.48,27.5,28.0],[27.3],[27.07,[27.12,27.14],27.17,27.35,27.45,27.55,27.85,27.95,28.07],[27.78,27.92],[27.6,27.62,27.66,27.72],[]],
  [[[26.8,26.82],26.9,26.91,27.075,27.33,27.36,27.44,27.49,27.55,27.63,27.65],[],[26.98,27.16,27.18,27.41,27.47,27.97],[],[27.52,27.59],[[27.11,27.145],27.23,[27.3,27.315]]],
  [[26.92,27.3,27.38,27.4,27.45,27.52,[27.905,27.915]],[],[[27.02,27.05],[27.16,27.19],27.43,27.47,27.5,27.55,[27.925,27.935],27.95,27.99,28.03],[27.68],[27.65],[26.93]],
  [[27.17,27.4,27.48,27.5,27.62,27.96],[[26.925,26.935]],[27.075,27.15,27.32,27.37,27.45,27.46,27.56,[27.91,27.92],[27.945,27.955],28.02],[],[[27.58,27.59]],[]],
  [[[26.885,26.905],27.43,[27.48,27.5],[27.985,27.995]],[],[27.09,27.13,27.15,27.38,[27.445,27.46],27.62,[27.93,27.945]],[],[27.54,27.6,27.68],[]],
  [[[26.905,26.925],27.4,[27.47,27.49],27.5,27.52],[[27.19,27.2]],[[26.99,27.0],27.25,27.33,27.34,27.42,[27.445,27.46],27.57,[27.92,27.93],[27.955,27.965]],[27.54],[27.66],[]],
  [[27.07,27.38,27.42,[27.435,27.465],27.54,27.56],[27.2],[27.125,27.48,27.5,27.93,27.95],[27.67],[[27.625,27.635]],[]],
  [[[26.95,26.965],27.06,27.38,27.4,27.45,[27.465,27.475],27.87],[27.19,27.62],[27.43,[27.49,27.505],27.89,[27.955,27.975]],[[27.62,27.635],27.68,27.73],[27.55,27.58,[27.64,27.655]],[[27.295,27.31]]],
  [[[26.925,26.95],27.1,27.4,27.44,27.49,27.53,27.63],[],[27.21,27.26,27.37,27.41,[27.455,27.48],27.5,27.66,27.93,27.96],[27.2,[27.615,27.625],27.68],[],[]],
  [[[26.925,26.945],[27.44,27.47]],[],[26.97,[27.035,27.045],27.17,[27.195,27.205],27.25,27.33,27.39,[27.415,27.43],27.475,[27.5,27.51],27.62,27.73,27.93,27.96,28.02],[27.59,[27.755,27.765]],[27.55,27.65,27.7],[]],
  [[[26.91,26.94],27.3,27.46,27.56,[27.99,28.01]],[[26.945,26.955]],[[27.41,27.43],27.47,27.48,[27.5,27.52],27.75,27.77,[27.96,27.975],28.03],[[27.62,27.63],27.76],[27.6,27.69],[27.55]],
  [[[26.925,26.945],27.38,27.45,[27.6,27.62],27.69],[],[27.16,27.2,27.4,[27.425,27.435],27.47,27.5,27.58,27.72,27.93,28.0],[27.63],[[27.655,27.675],27.75],[27.55]],
  [[26.92,[26.97,26.99],27.15,27.22,27.3,27.43,27.48,[27.6,27.615],27.86],[],[[27.005,27.015],27.2,27.36,27.38,27.41,[27.46,27.475],27.5,27.92,27.95],[27.7],[[27.585,27.595],[27.65,27.69],27.73],[27.13,27.53]],
  [[26.9,[26.945,26.96],27.09,27.13,27.24,27.4,27.48,27.52,27.7],[27.2],[26.93,27.04,27.21,27.33,27.35,27.41,[27.425,27.435],27.5,27.94],[27.3,27.6,27.66],[27.56,27.63],[[26.915,26.925],[27.45,27.46]]],
  [[26.92,27.0,27.04,27.09,27.21,27.3,27.37,27.44,27.5],[],[26.96,27.16,27.4,[27.43,27.44],27.47,27.57,27.96],[27.64],[[27.555,27.565],27.6,27.69,27.71],[]],
  [[26.89,27.06,27.12,27.25,27.3,27.44,27.55,27.85,27.97],[],[27.16,27.23,27.31,27.38,27.41,[27.455,27.465],27.5,27.53,27.6,27.68,27.99,28.03],[27.02,[27.655,27.665]],[27.52,27.62,27.7],[27.04,27.27]]
];

const PANELS = [PANEL1, PANEL2, PANEL3];

// Class colours, same order as the entries of a station row
const CLASS_COLORS = ['#ffff00', '#f57a1c', '#1c1ce2', '#86ef86', '#00ffff', '#2a8cf0'];
// Drawing order of classes (blue on top)
const DRAW_ORDER = [0, 1, 3, 4, 5, 2];

const HALF_W = 0.301;   // half station spacing, degrees
const HALF_H = 0.0042;  // half thickness of a single-level dash
const FONT = "'Liberation Sans', Arial, Helvetica, sans-serif";

const GRID_BOXES = [
  { left: 69, width: 710, top: 9, height: 411 },
  { left: 69, width: 710, top: 489, height: 399 },
  { left: 69, width: 710, top: 965, height: 408 }
];

function dashItems(rows, cls) {
  const out = [];
  rows.forEach(function (row, i) {
    const lon = STATIONS[i];
    (row[cls] || []).forEach(function (v) {
      if (Array.isArray(v)) out.push([lon, v[0], v[1]]);
      else out.push([lon, v - HALF_H, v + HALF_H]);
    });
  });
  return out;
}

function dashRenderer(color) {
  return function (params, api) {
    const lon = api.value(0);
    const a = api.coord([lon - HALF_W, api.value(1)]);
    const b = api.coord([lon + HALF_W, api.value(2)]);
    const y0 = Math.min(a[1], b[1]);
    const h = Math.max(Math.abs(b[1] - a[1]), 1.6);
    const shape = echarts.graphic.clipRectByRect(
      { x: a[0], y: y0, width: b[0] - a[0], height: h },
      { x: params.coordSys.x, y: params.coordSys.y, width: params.coordSys.width, height: params.coordSys.height }
    );
    if (!shape) return null;
    return { type: 'rect', shape: shape, style: { fill: color } };
  };
}

function refLineRenderer(params, api) {
  const cs = params.coordSys;
  const y = api.coord([X_RANGE[0], api.value(0)])[1];
  return {
    type: 'line',
    shape: { x1: cs.x, y1: y, x2: cs.x + cs.width, y2: y },
    style: { stroke: '#1a1a1a', lineWidth: 1, lineDash: [5, 3] }
  };
}

const grids = [], xAxes = [], yAxes = [], series = [];
const axisLine = { show: true, onZero: false, lineStyle: { color: '#000', width: 1 } };

GRID_BOXES.forEach(function (box, p) {
  grids.push(Object.assign({ containLabel: false }, box));
  const yr = Y_RANGES[p];

  xAxes.push({
    gridIndex: p, type: 'value', position: 'bottom',
    min: X_RANGE[0], max: X_RANGE[1], interval: X_STEP,
    axisLine: axisLine,
    axisTick: { inside: true, length: 5, lineStyle: { color: '#000' } },
    axisLabel: { color: '#000', fontSize: 13, fontFamily: FONT, margin: 5, showMinLabel: true, showMaxLabel: true },
    splitLine: { show: false },
    name: 'Longitude(\u2070)', nameLocation: 'middle', nameGap: 21,
    nameTextStyle: { color: '#000', fontSize: 14, fontFamily: FONT }
  });
  xAxes.push({
    gridIndex: p, type: 'value', position: 'top',
    min: X_RANGE[0], max: X_RANGE[1], interval: X_STEP,
    axisLine: axisLine,
    axisTick: { inside: true, length: 5, lineStyle: { color: '#000' } },
    axisLabel: { show: false },
    splitLine: { show: false }
  });
  yAxes.push({
    gridIndex: p, type: 'value', position: 'left', inverse: true,
    min: yr[0], max: yr[1],
    axisLine: axisLine,
    axisTick: { inside: true, length: 5, customValues: Y_TICKS, lineStyle: { color: '#000' } },
    axisLabel: { customValues: Y_TICKS, color: '#000', fontSize: 13, fontFamily: FONT, margin: 12 },
    splitLine: { show: false },
    name: 'Neutral density \u03b3\u207f (Kg\u00b7m\u207b\u00b3)', nameLocation: 'middle', nameGap: 36,
    nameTextStyle: { color: '#000', fontSize: 15, fontFamily: FONT }
  });
  yAxes.push({
    gridIndex: p, type: 'value', position: 'right', inverse: true,
    min: yr[0], max: yr[1],
    axisLine: axisLine,
    axisTick: { inside: true, length: 5, customValues: Y_TICKS, lineStyle: { color: '#000' } },
    axisLabel: { show: false },
    splitLine: { show: false }
  });

  DRAW_ORDER.forEach(function (cls) {
    const items = dashItems(PANELS[p], cls);
    if (!items.length) return;
    series.push({
      type: 'custom',
      xAxisIndex: 2 * p, yAxisIndex: 2 * p,
      encode: { x: 0, y: [1, 2] },
      data: items,
      silent: true,
      renderItem: dashRenderer(CLASS_COLORS[cls])
    });
  });

  series.push({
    type: 'custom',
    xAxisIndex: 2 * p, yAxisIndex: 2 * p,
    encode: { y: 0 },
    data: REF_LEVELS.map(function (v) { return [v]; }),
    silent: true,
    z: 5,
    renderItem: refLineRenderer
  });
});

const chart = echarts.init(document.getElementById('chart'), null, { renderer: 'canvas' });
chart.setOption({
  animation: false,
  backgroundColor: '#ffffff',
  textStyle: { fontFamily: FONT },
  grid: grids,
  xAxis: xAxes,
  yAxis: yAxes,
  series: series
});
</script>
</body>
</html>
